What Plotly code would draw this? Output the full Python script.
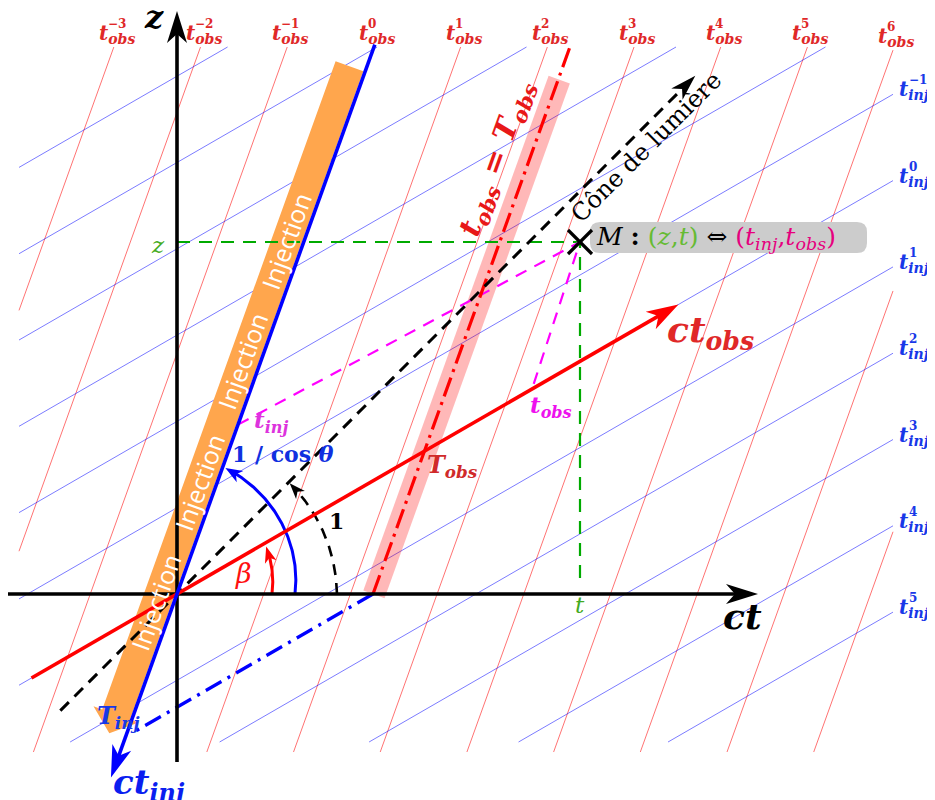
import numpy as np
import plotly.graph_objects as go

# ---- diagram values (ct and z in pixel units, origin at O) ----
beta_deg = 30.0          # ct_obs axis, angle to the ct axis
inj_deg = 70.2           # t_obs = 0 line (= ct_inj axis)
obs_step = 86.7          # spacing of the t_obs = const lines along ct
inj_step = 86.3          # spacing of the t_inj = const lines along z
obs_index = list(range(-3, 9))
obs_ticks = [-3, -2, -1, 0, 1, 2, 3, 4, 5, 6]
inj_index = list(range(-6, 6))
inj_ticks = [-1, 0, 1, 2, 3, 4, 5]
grid_ct = [-158, 716]
obs_z = [-158, 547]
inj_z = [-148, 547]

ct_axis = [-169, 581]
z_axis = [-168, 583]
obs_axis = [-168, 579]   # along ct_obs
inj_axis = [-195, 584]   # along t_obs = 0, ct_inj points to the negative end
cone = [-165, 733]       # light cone (45 deg)

T_obs = 196.0            # t_obs = T_obs crosses the ct axis here
M = [403.0, 352.0]       # point M (ct, z)
M_tinj = 180.0           # foot of M on the ct_inj axis
M_tobs = 410.0           # foot of M on the ct_obs axis

inj_band = [-154, 555]   # orange "Injection" strip
obs_band = [0, 547]      # pink strip along t_obs = T_obs

MATH = "DejaVu Serif"
SANS = "Open Sans"
RED_LAB = "#E02828"
BLUE_LAB = "#1838E8"


def unit(deg):
    a = np.radians(deg)
    return np.array([np.cos(a), np.sin(a)])


u_obs = unit(beta_deg)
u_inj = unit(inj_deg)
n_inj = np.array([-u_inj[1], u_inj[0]])
u_cone = unit(45)

fig = go.Figure()


def line(pts, color, width, dash=None, opacity=1.0):
    xs = [p[0] if p is not None else None for p in pts]
    ys = [p[1] if p is not None else None for p in pts]
    fig.add_trace(go.Scatter(x=xs, y=ys, mode="lines", opacity=opacity,
                             line=dict(color=color, width=width, dash=dash),
                             hoverinfo="skip", showlegend=False))


def poly(pts, color):
    pts = list(pts) + [pts[0]]
    fig.add_trace(go.Scatter(x=[p[0] for p in pts], y=[p[1] for p in pts],
                             mode="lines", fill="toself", fillcolor=color,
                             line=dict(width=0, color=color),
                             hoverinfo="skip", showlegend=False))


def head(tip, u, L, W, color, notch=0.28):
    tip = np.asarray(tip, float)
    p = np.array([-u[1], u[0]])
    poly([tip, tip - L * u + W * p, tip - (1 - notch) * L * u, tip - L * u - W * p], color)


def arrow(a, b, color, width, L, W, dash=None):
    a, b = np.asarray(a, float), np.asarray(b, float)
    u = (b - a) / np.linalg.norm(b - a)
    line([a, b - 0.6 * L * u], color, width, dash)
    head(b, u, L, W, color)


def arc(a0, a1, r0, r1, color, width, L, W, dash=None):
    ang = np.radians(np.linspace(a0, a1, 120))
    r = np.linspace(r0, r1, 120)
    pts = np.c_[r * np.cos(ang), r * np.sin(ang)]
    tip = pts[-1]
    d = np.linalg.norm(pts - tip, axis=1)
    back = pts[np.argmin(np.abs(d - L))]
    u = (tip - back) / np.linalg.norm(tip - back)
    line(list(pts[d > 0.6 * L]), color, width, dash)
    head(tip, u, L, W, color)


def clip(p, d, xr, yr):
    t0, t1 = -1e9, 1e9
    for i, (lo, hi) in enumerate([xr, yr]):
        a, b = (lo - p[i]) / d[i], (hi - p[i]) / d[i]
        t0, t1 = max(t0, min(a, b)), min(t1, max(a, b))
    if t0 >= t1:
        return None
    return p + t0 * d, p + t1 * d


# ---- oblique grid ----
red_pts, red_top = [], {}
for k in obs_index:
    s = clip(np.array([k * obs_step, 0.0]), u_inj, grid_ct, obs_z)
    if s:
        red_pts += [s[0], s[1], None]
        red_top[k] = s[1]
blue_pts, blue_end = [], {}
for k in inj_index:
    s = clip(np.array([0.0, -k * inj_step]), u_obs, grid_ct, inj_z)
    if s:
        blue_pts += [s[0], s[1], None]
        blue_end[k] = s[1]
line(red_pts, "rgba(255,0,0,0.62)", 0.9)
line(blue_pts, "rgba(0,0,255,0.58)", 0.9)

# ---- strips ----
P0 = np.array([T_obs, 0.0])
pk = lambda s, off: P0 + s * u_inj + off * n_inj
poly([pk(obs_band[0], -12.3), pk(obs_band[1], -12.3), pk(obs_band[1], 10.3), pk(obs_band[0], 10.3)],
     "rgba(255,0,0,0.28)")

oj = lambda s, off: s * u_inj + off * n_inj
s_tip, s_top = inj_band
s_base = s_tip + 20
c, hw, hh = 16.5, 14.75, 24
poly([oj(s_top, c - hw), oj(s_top, c + hw), oj(s_base, c + hw), oj(s_base, c + hh),
      oj(s_tip, c), oj(s_base, c - hh), oj(s_base, c - hw)], "rgb(255,166,77)")

# ---- construction lines ----
Mp = np.array(M)
line([[0, M[1]], Mp, [M[0], 7]], "#00AA00", 2.2, "13px,9px")
foot_inj = M_tinj * u_inj
foot_obs = M_tobs * u_obs
line([foot_inj, Mp, foot_obs], "#FF00FF", 2.2, "12px,9px")

# T_obs dash-dot line and T_inj line
line([P0, P0 + 584 * u_inj], "#FF0000", 3.2, "20px,6px,3px,6px")
A = np.array([u_obs, -u_inj]).T
a_, b_ = np.linalg.solve(A, -P0)
T_inj_pt = P0 + a_ * u_obs
line([P0, P0 + (a_ + 6) * u_obs], "#0000FF", 3.2, "18px,7px,3px,7px")

# light cone
arrow(cone[0] * u_cone, cone[1] * u_cone, "black", 3, 26, 8, dash="12px,8px")

# angle arcs
arc(0, 69, 118, 135, "#0000FF", 3, 17, 6.5)
arc(0, 28, 95, 101, "#FF0000", 3, 16, 6)
arc(0, 44.5, 160, 158, "black", 2.6, 16, 6, dash="11px,8px")

# ---- axes ----
arrow([ct_axis[0], 0], [ct_axis[1], 0], "black", 3.6, 32, 10)
arrow([0, z_axis[0]], [0, z_axis[1]], "black", 3.6, 32, 10)
arrow(obs_axis[0] * u_obs, obs_axis[1] * u_obs, "#FF0000", 3.6, 32, 10)
arrow(inj_axis[1] * u_inj, inj_axis[0] * u_inj, "#0000FF", 3.6, 32, 10)

# ---- M marker and label box ----
bx0, bx1, by0, by1, rr = M[0] + 10, M[0] + 287, M[1] - 11, M[1] + 20, 10
fig.add_shape(type="path", layer="above", fillcolor="#CCCCCC", line=dict(width=0),
              path=(f"M {bx0+rr},{by0} L {bx1-rr},{by0} Q {bx1},{by0} {bx1},{by0+rr} "
                    f"L {bx1},{by1-rr} Q {bx1},{by1} {bx1-rr},{by1} L {bx0+rr},{by1} "
                    f"Q {bx0},{by1} {bx0},{by1-rr} L {bx0},{by0+rr} Q {bx0},{by0} {bx0+rr},{by0} Z"))
for sx in (-1, 1):
    fig.add_shape(type="line", layer="above", x0=M[0] - 12, y0=M[1] - 12 * sx,
                  x1=M[0] + 12, y1=M[1] + 12 * sx, line=dict(color="black", width=3.2))


def ann(x, y, text, size, color, family=MATH, angle=0, xanchor="center", yanchor="middle"):
    fig.add_annotation(x=x, y=y, text=text, showarrow=False, textangle=angle,
                       xanchor=xanchor, yanchor=yanchor,
                       font=dict(family=family, size=size, color=color))


bi = lambda s: f"<b><i>{s}</i></b>"

# grid labels
for k in obs_ticks:
    top = red_top[k]
    x0 = top[0] - 17
    ann(x0, top[1] + 13, bi("t") + "<sub>" + bi("obs") + "</sub>", 20, RED_LAB, xanchor="left")
    ann(x0 + 9, top[1] + 23, f"<b>{str(k).replace('-', '−')}</b>", 12, RED_LAB, xanchor="left")
for k in inj_ticks:
    e = blue_end[k]
    ann(e[0] + 4, e[1] + 4, bi("t") + "<sub>" + bi("inj") + "</sub>", 20, BLUE_LAB, xanchor="left")
    ann(e[0] + 14, e[1] + 14, f"<b>{str(k).replace('-', '−')}</b>", 12, BLUE_LAB, xanchor="left")

# axis labels
ann(-23, 577, bi("z"), 32, "black")
ann(565, -22, bi("ct"), 36, "black")
ann(488, 262, bi("ct") + "<sub>" + bi("obs") + "</sub>", 36, RED_LAB, xanchor="left")
ann(-66, -190, bi("ct") + "<sub>" + bi("inj") + "</sub>", 34, "#0A1EF0", xanchor="left")

# other labels
ann(T_inj_pt[0] + 16, T_inj_pt[1] + 20, bi("T") + "<sub>" + bi("inj") + "</sub>", 24, BLUE_LAB, xanchor="right")
ann(248, 128, bi("T") + "<sub>" + bi("obs") + "</sub>", 24, "#D02A2A", xanchor="left")
ann(foot_inj[0] + 33, foot_inj[1] + 3, bi("t") + "<sub>" + bi("inj") + "</sub>", 23, "#DD33DD")
ann(foot_obs[0] + 19, foot_obs[1] - 17, bi("t") + "<sub>" + bi("obs") + "</sub>", 23, "#EE11EE")
ann(106, 140, "<b>1 / cos <i>θ</i></b>", 22, "#1030E0")
ann(159, 73, "<b>1</b>", 22, "black")
ann(66, 21, "<i>β</i>", 27, "#FF1010")
ann(-19, M[1] - 3, "<i>z</i>", 23, "#44AA22")
ann(M[0], -11, "<i>t</i>", 23, "#44AA22")

tc = P0 + 452 * u_inj + 31 * n_inj
ann(tc[0], tc[1], bi("t") + "<sub>" + bi("obs") + "</sub>" + "<b> = </b>" + bi("T") + "<sub>" + bi("obs") + "</sub>",
    30, "#E81818", angle=-inj_deg)
cc = 648 * u_cone + 16 * np.array([u_cone[1], -u_cone[0]])
ann(cc[0], cc[1], "Cône de lumière", 24, "black", angle=-45)

for i in range(4):
    p = oj(-15 + 128 * i, 17)
    ann(p[0], p[1], "Injection", 25, "white", family=SANS, angle=-inj_deg)

ann(M[0] + 14, M[1] + 4,
    "<i>M</i> <b>:</b> <span style='color:#66BB33'>(<i>z</i>,<i>t</i>)</span> ⇔ "
    "<span style='color:#E6007E'>(<i>t</i><sub><i>inj</i></sub>,<i>t</i><sub><i>obs</i></sub>)</span>",
    25, "black", xanchor="left")

# the page body keeps an 8px margin, so the plot is 8px smaller and starts at (8, 8)
fig.update_layout(width=927, height=792, margin=dict(l=0, r=0, t=0, b=0),
                  paper_bgcolor="white", plot_bgcolor="white",
                  xaxis=dict(range=[-169, 758], visible=False, fixedrange=True),
                  yaxis=dict(range=[-206, 586], visible=False, fixedrange=True))

fig.write_html("out.html", config={"displayModeBar": False})
